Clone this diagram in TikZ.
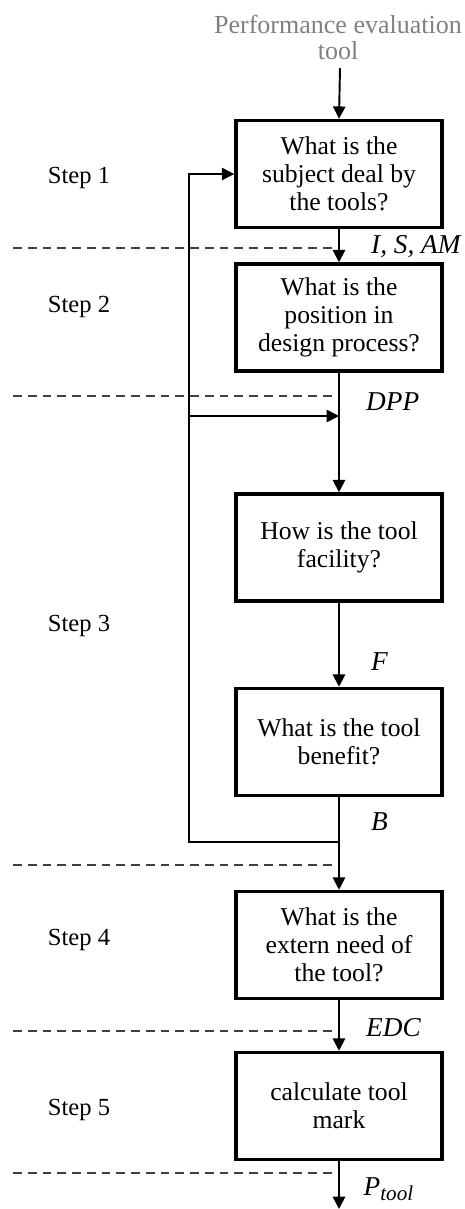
\documentclass[tikz,border=0pt]{standalone}
\usepackage{fontspec}
\setmainfont{Liberation Serif}
\usetikzlibrary{arrows.meta}
\definecolor{titlegray}{RGB}{128,128,128}
\begin{document}
\begin{tikzpicture}[
    box/.style={draw, line width=2pt, minimum width=4.12cm, minimum height=2.14cm,
      align=center, font=\fontsize{14.6}{16}\selectfont},
    flow/.style={line width=1.1pt, -{Triangle[length=7pt,width=7pt]}},
    loop/.style={line width=0.9pt, -{Triangle[length=7pt,width=7pt]}},
    sep/.style={line width=0.6pt, dash pattern=on 5pt off 3.4pt, black!75},
    steplbl/.style={font=\fontsize{14}{16}\selectfont},
    var/.style={anchor=west, font=\fontsize{15.5}{16}\selectfont\itshape}]
  \useasboundingbox (0,0) rectangle (9.3,-24.18);
  \node[align=center, text=titlegray, font=\fontsize{14.8}{14.5}\selectfont] (t) at (6.76,-0.75)
    {Performance evaluation\\tool};
  \coordinate (t') at (6.8,-1.36);
  \node[box] (b1) at (6.78,-3.48) {What is the\\subject deal by\\the tools?};
  \node[box] (b2) at (6.78,-6.35) {What is the\\position in\\design process?};
  \node[box] (b3) at (6.78,-10.95) {How is the tool\\facility?};
  \node[box] (b4) at (6.78,-14.84) {What is the tool\\benefit?};
  \node[box] (b5) at (6.78,-18.9) {What is the\\extern need of\\the tool?};
  \node[box] (b6) at (6.78,-22.12) {calculate tool\\mark};
  \coordinate (out) at (6.78,-24.18);
  % steps
  \node[steplbl] (s1) at (1.58,-3.56) {Step 1}; \node[steplbl] (s2) at (1.58,-6.14) {Step 2};
  \node[steplbl] (s3) at (1.58,-12.52) {Step 3}; \node[steplbl] (s4) at (1.58,-18.8) {Step 4};
  \node[steplbl] (s5) at (1.58,-22.2) {Step 5};
  % separators
  \foreach \y in {-4.96,-7.92,-17.3,-20.62,-23.46}
    \draw[sep] (0.26,\y) -- (6.72,\y);
  % outputs
  \node[var] (v1) at (7.3,-4.94) {I, S, AM}; \node[var] (v2) at (7.2,-8.04) {DPP};
  \node[var] (v3) at (7.3,-13.24) {F}; \node[var] (v4) at (7.3,-16.44) {B};
  \node[var] (v5) at (7.2,-20.56) {EDC};
  \node[var] (v6) at (7.15,-23.78) {P\raisebox{-0.4ex}{\fontsize{12}{12}\selectfont tool}};
  % main flow
  \draw[flow] (t') to (b1.north); \draw[flow] (b1) to (b2);
  \draw[flow] (b2) to (b3); \draw[flow] (b3) to (b4);
  \draw[flow] (b4) to (b5); \draw[flow] (b5) to (b6);
  \draw[flow] (b6) to (out);
  % feedback
  \coordinate (j1) at (6.78,-16.84); \coordinate (c1) at (3.78,-16.84);
  \coordinate (j2) at (6.78,-8.32); \coordinate (c2) at (3.78,-8.32);
  \draw[loop] (j1) -- (c1) |- (b1.west);
  \draw[loop] (c2) -- (j2);
\end{tikzpicture}
\end{document}
